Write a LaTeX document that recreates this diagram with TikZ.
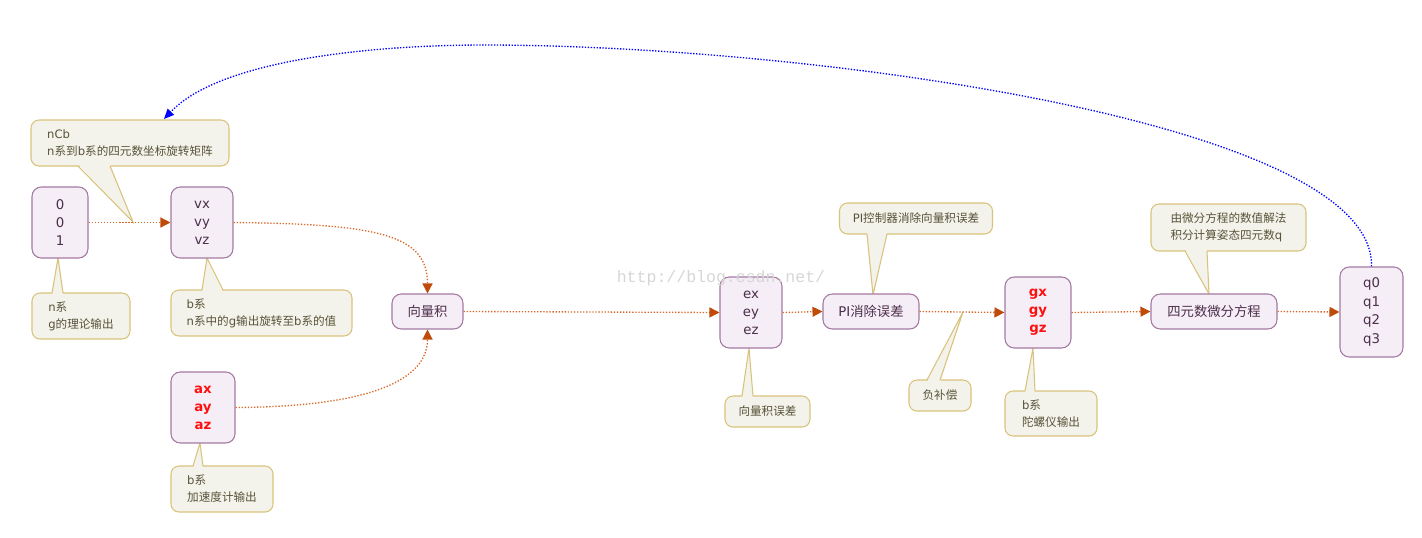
\documentclass[tikz,border=0pt]{standalone}
\usepackage{fontspec}
\setmainfont{DejaVu Sans}
\newfontfamily\cjk{Noto Sans CJK SC}
\newfontfamily\wmfont{Liberation Mono}
\usetikzlibrary{arrows.meta,calc}
\newcommand\C[1]{{\cjk #1}}
\definecolor{boxline}{HTML}{A47AA3}
\definecolor{boxfill}{HTML}{F6EEF6}
\definecolor{boxtext}{HTML}{4B2E4A}
\definecolor{cline}{HTML}{D9C27C}
\definecolor{cfill}{HTML}{F4F3EB}
\definecolor{ctext}{HTML}{575238}
\definecolor{flow}{HTML}{D8692A}
\definecolor{flowtip}{HTML}{C04A0A}
\definecolor{redtext}{HTML}{FF1010}
\def\px{0.75pt}
\tikzset{
  block/.style={draw=boxline, fill=boxfill, line width=0.8pt, rounded corners=7pt,
    text=boxtext, align=center, inner sep=0pt, font=\fontsize{10}{13.5}\selectfont},
  note/.style={draw=cline, fill=cfill, line width=0.8pt, rounded corners=6pt,
    text=ctext, align=left, inner sep=0pt, font=\fontsize{8.7}{12.75}\selectfont},
  flowline/.style={draw=flow, line width=1pt, dash pattern=on 1pt off 1.3pt,
    -{Triangle[length=7.5pt,width=7.5pt,color=flowtip]}},
  backline/.style={draw=blue, line width=1pt, dash pattern=on 1pt off 1.2pt,
    -{Triangle[length=7.5pt,width=6.5pt,color=blue]}},
  redbold/.style={text=redtext, font=\fontsize{10}{13.5}\selectfont\bfseries}
}
\newcommand\ptr[6]{%
  \fill[cfill] ({#1},{#3+#4}) -- ({#5},{#6}) -- ({#2},{#3+#4}) -- cycle;
  \draw[cline, line width=0.8pt] ({#1},{#3}) -- ({#5},{#6}) -- ({#2},{#3});}
\begin{document}
\begin{tikzpicture}[x=0.75pt, y=-0.75pt]
\useasboundingbox (0,0) rectangle (1422,537);

% callouts
\node[note, minimum width=198*\px, minimum height=46*\px] (cncb) at (130,143)
  {nCb\\n\C{系到}b\C{系的四元数坐标旋转矩阵}};
\node[note, minimum width=98*\px, minimum height=46*\px] (cn) at (81,316)
  {n\C{系}\\g\C{的理论输出}};
\node[note, minimum width=181*\px, minimum height=46*\px] (cb1) at (261.5,313)
  {b\C{系}\\n\C{系中的}g\C{输出旋转至}b\C{系的值}};
\node[note, minimum width=102*\px, minimum height=46*\px] (cb2) at (222,489)
  {b\C{系}\\\C{加速度计输出}};
\node[note, minimum width=85*\px, minimum height=31*\px] (cerr) at (767.5,411.5)
  {\C{向量积误差}};
\node[note, minimum width=153*\px, minimum height=31*\px] (cpi) at (916,218.5)
  {PI\C{控制器消除向量积误差}};
\node[note, minimum width=62*\px, minimum height=31*\px] (cneg) at (940,395.5)
  {\C{负补偿}};
\node[note, minimum width=92*\px, minimum height=45*\px] (cgyro) at (1051,413.5)
  {b\C{系}\\\C{陀螺仪输出}};
\node[note, minimum width=155*\px, minimum height=47*\px] (cq) at (1228.5,227.5)
  {\C{由微分方程的数值解法}\\\C{积分计算姿态四元数}q};

% pointers
\ptr{78}{110}{166}{-2}{133}{222}
\ptr{52}{63}{293}{2}{58}{258}
\ptr{202}{223}{290}{2}{207}{258}
\ptr{193}{203}{466}{2}{200}{443}
\ptr{742}{753}{396}{2}{749}{348}
\ptr{867}{887}{234}{-2}{873}{295}
\ptr{927}{940}{380}{2}{963}{312}
\ptr{1025}{1035}{391}{2}{1033}{348}
\ptr{1185}{1207}{251}{-2}{1209}{294}

% blocks
\node[block, minimum width=56*\px, minimum height=71*\px] (n001) at (60,222.5) {0\\0\\1};
\node[block, minimum width=62*\px, minimum height=71*\px] (vxyz) at (202,222.5) {vx\\vy\\vz};
\node[block, minimum width=64*\px, minimum height=71*\px, redbold] (axyz) at (203,407.5) {ax\\ay\\az};
\node[block, minimum width=71*\px, minimum height=35*\px] (cross) at (427.5,311.5) {\C{向量积}};
\node[block, minimum width=62*\px, minimum height=71*\px] (exyz) at (751,312.5) {ex\\ey\\ez};
\node[block, minimum width=96*\px, minimum height=35*\px] (pi) at (871,311.5) {PI\C{消除误差}};
\node[block, minimum width=66*\px, minimum height=71*\px, redbold] (gxyz) at (1038,312.5) {gx\\gy\\gz};
\node[block, minimum width=126*\px, minimum height=35*\px] (quat) at (1214,311.5) {\C{四元数微分方程}};
\node[block, minimum width=63*\px, minimum height=90*\px, font=\fontsize{10}{14}\selectfont] (q) at (1371.5,312) {q0\\q1\\q2\\q3};

% connectors
\draw[flowline] (n001.east) -- (vxyz.west);
\draw[flowline] (vxyz.east) .. controls (380,224) and (427.5,235) .. (cross.north);
\draw[flowline] (axyz.east) .. controls (340,407) and (427.5,390) .. (cross.south);
\draw[flowline] (cross.east) -- (exyz.west);
\draw[flowline] (exyz.east) -- (pi.west);
\draw[flowline] (pi.east) -- (gxyz.west);
\draw[flowline] (gxyz.east) -- (quat.west);
\draw[flowline] (quat.east) -- (q.west);
\coordinate (bluetip) at (164,119);
\draw[backline] (q.north) .. controls (1375,120) and (800,45) .. (485,45)
  .. controls (370,45) and (220,60) .. (bluetip);

% watermark
\node[text=black!16, font=\wmfont\fontsize{12.4}{14}\selectfont, inner sep=0pt] (wm) at (721,278) {http://blog.csdn.net/};
\end{tikzpicture}
\end{document}
